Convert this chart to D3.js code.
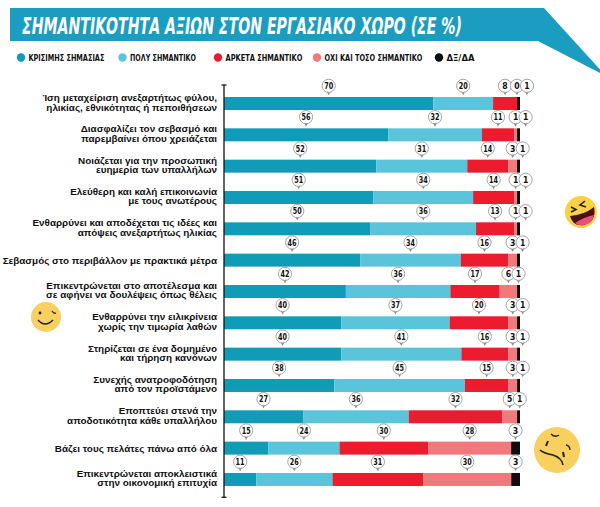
<!DOCTYPE html>
<html lang="el">
  <head>
    <meta charset="utf-8">
    <title>Σημαντικότητα αξιών</title>
    <style type="text/css">
      body{margin: 0; padding: 0; background: white;}
      svg{display: block;}
      .cat{font-family: "Liberation Sans", Arial, sans-serif; font-size: 9.9px; font-weight: bold; fill: #111;}
      .leg{font-family: "DejaVu Sans Condensed", "DejaVu Sans", sans-serif; font-size: 9px; font-weight: bold; fill: #111;}
      .pin{font-family: "DejaVu Sans Condensed", "DejaVu Sans", sans-serif; font-size: 8.6px; font-weight: bold; fill: #111;}
      .title{font-family: "DejaVu Sans Condensed", "DejaVu Sans", sans-serif; font-size: 23px; font-weight: bold; font-style: italic; fill: white;}
    </style>
  </head>
  <body>
    <div id='chart'></div>

    <script src="https://d3js.org/d3.v7.min.js"></script>
    <script type="text/javascript">

    const w = 600;
    const h = 507;

    const titleText = 'ΣΗΜΑΝΤΙΚΟΤΗΤΑ ΑΞΙΩΝ ΣΤΟΝ ΕΡΓΑΣΙΑΚΟ ΧΩΡΟ (ΣΕ %)';

    const categories = [
      'Ίση μεταχείριση  ανεξαρτήτως φύλου,|ηλικίας, εθνικότητας ή πεποιθήσεων',
      'Διασφαλίζει τον σεβασμό και|παρεμβαίνει όπου χρειάζεται',
      'Νοιάζεται για την προσωπική|ευημερία των υπαλλήλων',
      'Ελεύθερη και καλή επικοινωνία|με τους ανωτέρους',
      'Ενθαρρύνει και αποδέχεται τις ιδέες και|απόψεις ανεξαρτήτως ηλικίας',
      'Σεβασμός στο περιβάλλον με πρακτικά μέτρα',
      'Επικεντρώνεται στο αποτέλεσμα και|σε αφήνει να δουλέψεις όπως θέλεις',
      'Ενθαρρύνει την ειλικρίνεια|χωρίς την τιμωρία λαθών',
      'Στηρίζεται σε ένα δομημένο|και τήρηση κανόνων',
      'Συνεχής ανατροφοδότηση|από τον προϊστάμενο',
      'Εποπτεύει στενά την|αποδοτικότητα κάθε υπαλλήλου',
      'Βάζει τους πελάτες πάνω από όλα',
      'Επικεντρώνεται αποκλειστικά|στην οικονομική επιτυχία'
    ];

    const seriesNames = ['ΚΡΙΣΙΜΗΣ ΣΗΜΑΣΙΑΣ', 'ΠΟΛΥ ΣΗΜΑΝΤΙΚΟ', 'ΑΡΚΕΤΑ ΣΗΜΑΝΤΙΚΟ', 'ΟΧΙ ΚΑΙ ΤΟΣΟ ΣΗΜΑΝΤΙΚΟ', 'ΔΞ/ΔΑ'];
    const seriesColors = ['#109cb7', '#5ac4da', '#ec1b2e', '#f1787b', '#0d0d0d'];

    const critical      = [70, 56, 52, 51, 50, 46, 42, 40, 40, 38, 27, 15, 11];
    const veryImportant = [20, 32, 31, 34, 36, 34, 36, 37, 41, 45, 36, 24, 26];
    const fairly        = [ 8, 11, 14, 14, 13, 16, 17, 20, 16, 15, 32, 30, 31];
    const notSo         = [ 0,  1,  3,  1,  1,  3,  6,  3,  3,  3,  5, 28, 30];
    const noAnswer      = [ 1,  1,  1,  1,  1,  1,  1,  1,  1,  1,  1,  3,  3];

    const seriesValues = [critical, veryImportant, fairly, notSo, noAnswer];

    // legend layout (circle x, text width)
    const legendX = [21, 122.5, 218, 317, 439];
    const legendW = [76, 66, 77, 98, 28];

    // rows for d3.stack
    var rows = categories.map(function(c, i){
      var r = {cat: c};
      seriesNames.forEach(function(s, j){ r[s] = seriesValues[j][i]; });
      return r;
    });

    var svg = d3.select('#chart').append('svg')
      .attr('width', w)
      .attr('height', h);

    // squeeze a text horizontally to a given width
    function fitWidth(sel, x0, y0, width){
      var len = sel.node().getComputedTextLength();
      sel.attr('transform', 'translate(' + x0 + ',' + y0 + ') scale(' + (width / len) + ',1)');
    }

    // title banner
    svg.append('path')
      .attr('d', 'M10,8 L544,8 L606,76 L538,41 L10,41 Z')
      .attr('fill', '#1b9dc1');
    var title = svg.append('text')
      .attr('class', 'title')
      .text(titleText);
    fitWidth(title, 22, 33.5, 440);

    // legend
    var color = d3.scaleOrdinal().domain(seriesNames).range(seriesColors);
    var legend = svg.append('g').attr('transform', 'translate(0,57.5)');
    seriesNames.forEach(function(s, i){
      legend.append('circle').attr('cx', legendX[i]).attr('cy', 0).attr('r', 4.2).attr('fill', color(s));
      var t = legend.append('text').attr('class', 'leg').text(s);
      fitWidth(t, legendX[i] + 7.5, 3.3, legendW[i]);
    });

    // scales
    var x = d3.scaleLinear().domain([0, 1]).range([224, 520]);
    var y = d3.scaleBand().domain(categories).range([84, 491.3]).padding(0);
    var barH = 13;

    var stack = d3.stack().keys(seriesNames).offset(d3.stackOffsetExpand);
    var layers = stack(rows);

    svg.append('g').selectAll('g')
      .data(layers)
      .enter()
      .append('g')
      .attr('fill', function(d){ return color(d.key); })
      .selectAll('rect')
      .data(function(d){ return d; })
      .enter()
      .append('rect')
      .attr('x', function(d){ return x(d[0]); })
      .attr('y', function(d){ return y(d.data.cat) + 13; })
      .attr('width', function(d){ return x(d[1]) - x(d[0]); })
      .attr('height', barH);

    // axis line with end caps
    var y0 = y.range()[0] + 1, y1 = y.range()[1] + 6;
    var axis = svg.append('g').attr('stroke', '#111').attr('stroke-width', 1.3);
    axis.append('line').attr('x1', 224).attr('x2', 224).attr('y1', y0).attr('y2', y1);
    axis.append('line').attr('x1', 221.5).attr('x2', 226.5).attr('y1', y0).attr('y2', y0);
    axis.append('line').attr('x1', 221.5).attr('x2', 226.5).attr('y1', y1).attr('y2', y1);

    // category labels
    categories.forEach(function(c){
      var lines = c.split('|');
      var cy = y(c) + 13 + barH / 2;
      var t = svg.append('text').attr('class', 'cat').attr('text-anchor', 'end');
      if (lines.length === 1) {
        t.append('tspan').attr('x', 217).attr('y', cy + 3.5).text(lines[0]);
      } else {
        t.append('tspan').attr('x', 217).attr('y', cy - 2.5).text(lines[0]);
        t.append('tspan').attr('x', 217).attr('y', cy + 7).text(lines[1]);
      }
    });

    // value pins above each segment
    var pins = svg.append('g');
    categories.forEach(function(c, i){
      var xs = layers.map(function(l){ return (x(l[i][0]) + x(l[i][1])) / 2; });
      for (var k = 1; k < xs.length; k++) {
        if (xs[k] - xs[k - 1] < 10) xs[k] = xs[k - 1] + 10;
      }
      var cy = y(c) + 1.8;
      layers.forEach(function(l, j){
        var px = xs[j];
        var g = pins.append('g').attr('transform', 'translate(' + px + ',' + cy + ')');
        g.append('path')
          .attr('d', 'M-2.3,5 L2.3,5 L0,9.5 Z')
          .attr('fill', '#8a8a8a');
        g.append('circle')
          .attr('r', 6.6)
          .attr('fill', 'white')
          .attr('stroke', '#9a9a9a')
          .attr('stroke-width', 0.9);
        var v = String(seriesValues[j][i]);
        g.append('text')
          .attr('class', 'pin')
          .attr('text-anchor', 'middle')
          .attr('y', 3.1)
          .attr('textLength', v.length > 1 ? 9 : null)
          .attr('lengthAdjust', 'spacingAndGlyphs')
          .text(v);
      });
    });

    // emoji decorations
    var yellow = '#f8d060';
    var laugh = svg.append('g').attr('transform', 'translate(581,212)');
    laugh.append('circle').attr('r', 16).attr('fill', '#f9d143');
    laugh.append('path').attr('d', 'M-10,-5 L-5,-2.5 L-10,0').attr('fill', 'none').attr('stroke', '#222').attr('stroke-width', 1.6);
    laugh.append('path').attr('d', 'M4,-11 L-1,-7 L5,-5').attr('fill', 'none').attr('stroke', '#222').attr('stroke-width', 1.6);
    laugh.append('path').attr('d', 'M-11,4 Q3,3 13,-5 Q16,9 3,13 Q-8,15 -11,4 Z').attr('fill', '#4a1010');
    laugh.append('path').attr('d', 'M-6,11 Q3,5 13,3 Q11,12 3,13 Q-3,14 -6,11 Z').attr('fill', '#e8507a');

    var wink = svg.append('g').attr('transform', 'translate(46,317)');
    wink.append('circle').attr('r', 15).attr('fill', yellow);
    wink.append('circle').attr('cx', -6).attr('cy', -4).attr('r', 1.4).attr('fill', '#222');
    wink.append('path').attr('d', 'M6,-6 Q8,-3 10,-4').attr('fill', 'none').attr('stroke', '#222').attr('stroke-width', 1.3);
    wink.append('path').attr('d', 'M-8,3 Q-1,11 7,3').attr('fill', 'none').attr('stroke', '#222').attr('stroke-width', 1.5);

    var conf = svg.append('g').attr('transform', 'translate(557,450)');
    conf.append('circle').attr('r', 23).attr('fill', yellow);
    conf.append('path').attr('d', 'M-6,-16 Q-2,-12 2,-15').attr('fill', 'none').attr('stroke', '#222').attr('stroke-width', 1.3);
    conf.append('path').attr('d', 'M-11,-4 L-9,-9').attr('fill', 'none').attr('stroke', '#222').attr('stroke-width', 2);
    conf.append('path').attr('d', 'M9,-5 Q13,-4 13,0').attr('fill', 'none').attr('stroke', '#222').attr('stroke-width', 1.3);
    conf.append('path').attr('d', 'M6,2 L7,7').attr('fill', 'none').attr('stroke', '#222').attr('stroke-width', 2);
    conf.append('path').attr('d', 'M-17,0 Q-14,3 -4,5 Q5,8 6,15').attr('fill', 'none').attr('stroke', '#222').attr('stroke-width', 1.6);

    </script>
  </body>
</html>
